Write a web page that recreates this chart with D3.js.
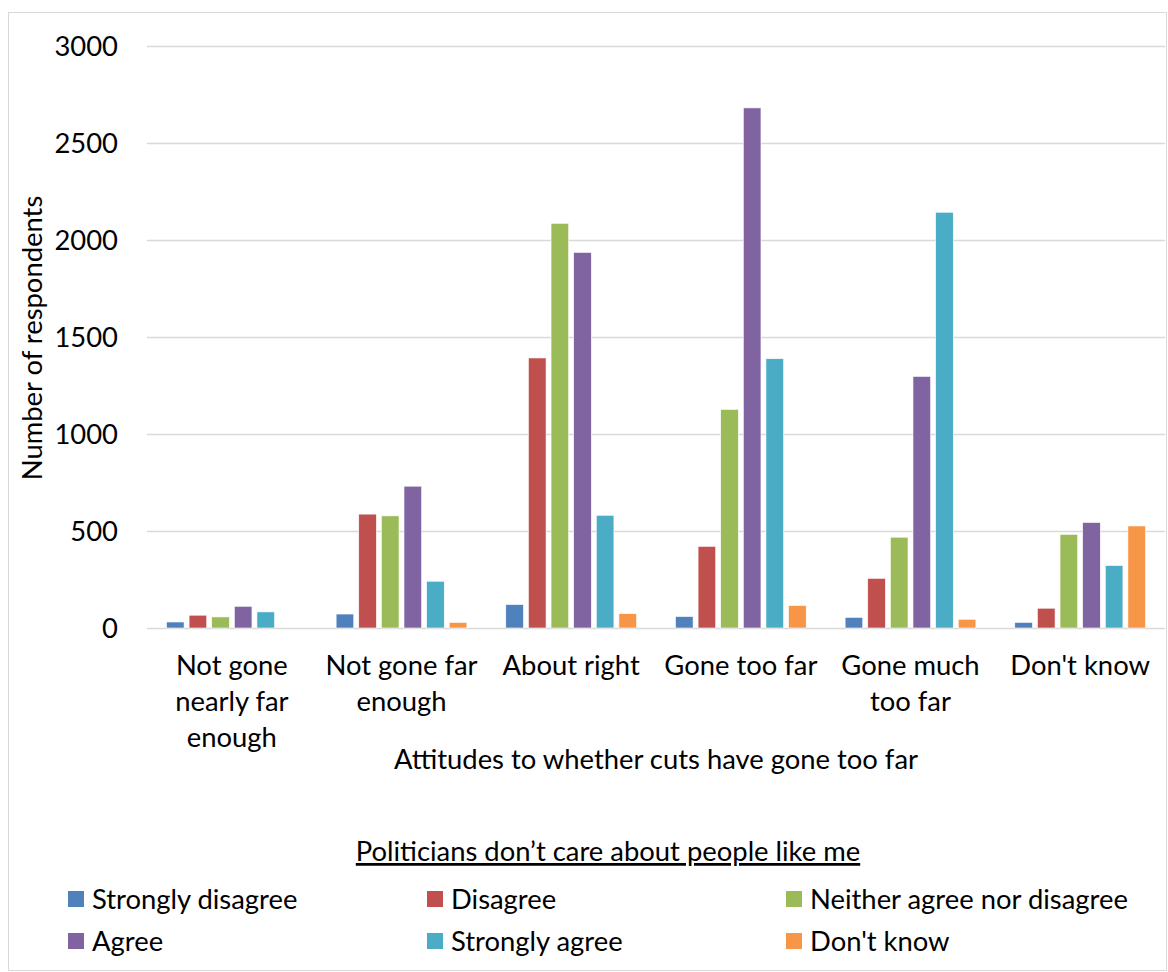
<!DOCTYPE html>
<html>
<head>
<meta charset="utf-8">
<script src="https://cdn.jsdelivr.net/npm/d3@7"></script>
<style>
  html, body { margin: 0; padding: 0; background: #fff; }
  svg { display: block; font-family: Lato, "Open Sans", sans-serif; }
</style>
</head>
<body>
<svg id="chart" width="1168" height="972"></svg>
<script>
// Attitude categories along the x axis, with their wrapped label lines
const categories = ["Not gone nearly far enough", "Not gone far enough", "About right",
                    "Gone too far", "Gone much too far", "Don't know"];
const categoryLines = [["Not gone", "nearly far", "enough"], ["Not gone far", "enough"], ["About right"],
                       ["Gone too far"], ["Gone much", "too far"], ["Don't know"]];

// Responses to "Politicians don't care about people like me"
const seriesNames = ["Strongly disagree", "Disagree", "Neither agree nor disagree",
                     "Agree", "Strongly agree", "Don't know"];
const seriesColors = ["#4F81BD", "#C0504D", "#9BBB59", "#8064A2", "#4BACC6", "#F79646"];

// Number of respondents: one array per response, indexed by category
const stronglyDisagree = [31, 72, 121, 59, 55, 29];
const disagree         = [66, 587, 1392, 421, 256, 102];
const neither          = [57, 578, 2086, 1127, 468, 483];
const agree            = [112, 731, 1936, 2681, 1297, 544];
const stronglyAgree    = [83, 241, 581, 1388, 2143, 322];
const dontKnow         = [0, 29, 74, 116, 45, 526];
const seriesValues = [stronglyDisagree, disagree, neither, agree, stronglyAgree, dontKnow];

const yTicks = [0, 500, 1000, 1500, 2000, 2500, 3000];

const FS = 27.4;
const svg = d3.select("#chart");
const W = 1168, H = 972;
const plot = { left: 147, right: 1165, top: 46, bottom: 628 };

// outer chart frame
svg.append("rect")
  .attr("x", 8.5).attr("y", 12.5)
  .attr("width", W - 10).attr("height", H - 14)
  .attr("fill", "#fff").attr("stroke", "#d9d9d9").attr("stroke-width", 1);

const x0 = d3.scaleBand().domain(categories)
  .range([plot.left, plot.right]).paddingInner(0.2).paddingOuter(0.1);
const x1 = d3.scaleBand().domain(seriesNames)
  .range([0, x0.bandwidth()]).paddingInner(0.22).paddingOuter(0.11);
const y = d3.scaleLinear().domain([0, 3000]).range([plot.bottom, plot.top]);

// horizontal gridlines and y tick labels
const yAxis = d3.axisLeft(y).tickValues(yTicks).tickFormat(d3.format("d"))
  .tickSize(-(plot.right - plot.left)).tickPadding(29);
const gy = svg.append("g").attr("transform", `translate(${plot.left},0)`).call(yAxis);
gy.select(".domain").remove();
gy.selectAll(".tick line").attr("stroke", "#d9d9d9").attr("stroke-width", 1.3);
gy.selectAll(".tick text")
  .attr("fill", "#000").attr("font-size", FS).attr("font-family", "Lato, sans-serif")
  .attr("dy", "0.34em");

// bars
const groups = svg.append("g").selectAll("g")
  .data(categories).join("g")
  .attr("transform", d => `translate(${x0(d)},0)`);

groups.selectAll("rect")
  .data((c, ci) => seriesNames.map((s, si) => ({ s, v: seriesValues[si][ci], color: seriesColors[si] })))
  .join("rect")
  .filter(d => d.v > 0)
  .attr("x", d => x1(d.s))
  .attr("y", d => y(d.v))
  .attr("width", x1.bandwidth())
  .attr("height", d => y(0) - y(d.v))
  .attr("fill", d => d.color)
  .attr("stroke", "#fff").attr("stroke-width", 0.6);

// x axis category labels
const xAxis = d3.axisBottom(x0).tickSize(0).tickPadding(0).tickFormat(() => "");
const gx = svg.append("g").attr("transform", `translate(0,${plot.bottom})`).call(xAxis);
gx.select(".domain").remove();
gx.selectAll(".tick").each(function (d, i) {
  const t = d3.select(this).append("text")
    .attr("fill", "#000").attr("font-size", FS).attr("text-anchor", "middle")
    .attr("font-family", "Lato, sans-serif");
  categoryLines[i].forEach((line, li) => {
    t.append("tspan").attr("x", 0).attr("y", 47 + li * 36).text(line);
  });
});

// axis titles
svg.append("text")
  .attr("x", 656).attr("y", 769)
  .attr("text-anchor", "middle").attr("font-size", FS)
  .text("Attitudes to whether cuts have gone too far");

svg.append("text")
  .attr("transform", "translate(42,338) rotate(-90)")
  .attr("text-anchor", "middle").attr("font-size", FS)
  .text("Number of respondents");

// legend
svg.append("text")
  .attr("x", 608).attr("y", 861)
  .attr("text-anchor", "middle").attr("font-size", FS)
  .attr("text-decoration", "underline")
  .text("Politicians don\u2019t care about people like me");

const legendCols = [68, 427, 786];
const legendRows = [899, 941];
const legend = svg.append("g").selectAll("g")
  .data(seriesNames).join("g")
  .attr("transform", (d, i) => `translate(${legendCols[i % 3]},${legendRows[Math.floor(i / 3)]})`);
legend.append("rect")
  .attr("x", 0).attr("y", -8).attr("width", 16).attr("height", 16)
  .attr("fill", (d, i) => seriesColors[i]);
legend.append("text")
  .attr("x", 24).attr("y", 0).attr("dy", "0.35em")
  .attr("font-size", FS)
  .text(d => d);
</script>
</body>
</html>
